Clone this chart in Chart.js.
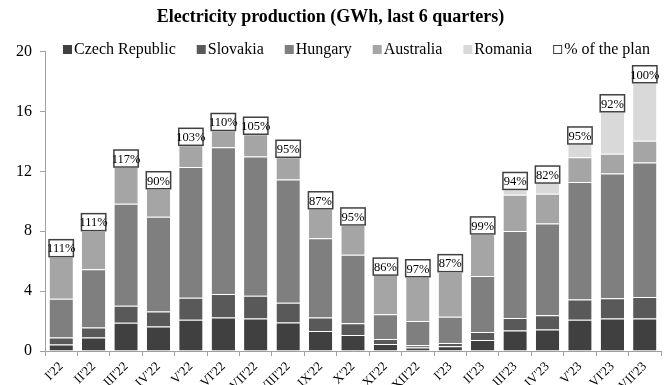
<!DOCTYPE html>
<html>
<head>
<meta charset="utf-8">
<script src="https://cdn.jsdelivr.net/npm/chart.js@4.4.1/dist/chart.umd.min.js"></script>
<style>
  body { margin: 0; background: #fff; }
  #wrap { width: 664px; height: 385px; }
</style>
</head>
<body>
<div id="wrap"><canvas id="prodChart" width="664" height="385"></canvas></div>
<script>
// ---- data (GWh per month) ----
const months = ["I'22", "II'22", "III'22", "IV'22", "V'22", "VI'22", "VII'22", "VIII'22", "IX'22", "X'22",
  "XI'22", "XII'22", "I'23", "II'23", "III'23", "IV'23", "V'23", "VI'23", "VII'23"];

const czech     = [0.43, 0.90, 1.88, 1.63, 2.08, 2.24, 2.17, 1.90, 1.34, 1.07, 0.47, 0.23, 0.31, 0.74, 1.37, 1.43, 2.08, 2.17, 2.17];
const slovakia  = [0.47, 0.67, 1.14, 1.01, 1.47, 1.56, 1.52, 1.32, 0.90, 0.79, 0.33, 0.15, 0.23, 0.53, 0.84, 0.96, 1.36, 1.36, 1.43];
const hungary   = [2.59, 3.89, 6.81, 6.32, 8.74, 9.81, 9.31, 8.24, 5.29, 4.57, 1.66, 1.63, 1.74, 3.74, 5.81, 6.12, 7.85, 8.33, 9.00];
const australia = [2.81, 2.58, 2.46, 1.88, 1.45, 1.12, 1.48, 1.48, 1.97, 1.99, 2.61, 2.95, 3.02, 2.81, 2.42, 1.99, 1.65, 1.32, 1.45];
const romania   = [null, null, null, null, null, null, null, null, null, null, null, null, null, null, 0.35, 0.72, 0.89, 2.80, 3.87];
const planPct   = [111, 111, 117, 90, 103, 110, 105, 95, 87, 95, 86, 97, 87, 99, 94, 82, 95, 92, 100];

const seriesNames  = ['Czech Republic', 'Slovakia', 'Hungary', 'Australia', 'Romania'];
const seriesColors = ['#404040', '#595959', '#7f7f7f', '#a5a5a5', '#d9d9d9'];
const seriesData   = [czech, slovakia, hungary, australia, romania];

const FONT = "'Liberation Serif', 'Times New Roman', serif";

// legend drawn by hand so it can sit on the same row as the "20" tick
const legendPlugin = {
  id: 'rowLegend',
  afterDraw(chart) {
    const ctx = chart.ctx;
    const y = 49;
    let x = 63;
    ctx.save();
    ctx.font = '16px ' + FONT;
    ctx.textBaseline = 'middle';
    ctx.textAlign = 'left';
    const items = seriesNames.map((n, i) => ({ name: n, color: seriesColors[i] }));
    items.push({ name: '% of the plan', color: null });
    items.forEach(it => {
      if (it.color) {
        ctx.fillStyle = it.color;
        ctx.fillRect(x, y - 4, 9, 9);
      } else {
        ctx.fillStyle = '#fff';
        ctx.fillRect(x + 0.5, y - 3.5, 8, 8);
        ctx.strokeStyle = '#404040';
        ctx.lineWidth = 1;
        ctx.strokeRect(x + 0.5, y - 3.5, 8, 8);
      }
      ctx.fillStyle = '#000';
      ctx.fillText(it.name, x + 11, y + 1);
      x += 11 + ctx.measureText(it.name).width + 21;
    });
    ctx.restore();
  }
};

// "% of the plan" boxes on top of every stack
const planPlugin = {
  id: 'planBoxes',
  afterDatasetsDraw(chart) {
    const ctx = chart.ctx;
    const yScale = chart.scales.y;
    const meta0 = chart.getDatasetMeta(0);
    ctx.save();
    ctx.font = '12.5px ' + FONT;
    ctx.textAlign = 'center';
    ctx.textBaseline = 'middle';
    planPct.forEach((p, i) => {
      let total = 0;
      seriesData.forEach(s => { total += s[i] || 0; });
      const top = yScale.getPixelForValue(total);
      const bar = meta0.data[i];
      const cx = bar.x;
      const w = bar.width + 1;
      const h = 17;
      ctx.fillStyle = '#fff';
      ctx.fillRect(cx - w / 2, top - h, w, h);
      ctx.strokeStyle = '#404040';
      ctx.lineWidth = 1.5;
      ctx.strokeRect(cx - w / 2, top - h, w, h);
      ctx.fillStyle = '#000';
      ctx.fillText(p + '%', cx, top - h / 2 + 1);
    });
    ctx.restore();
  }
};

new Chart(document.getElementById('prodChart'), {
  type: 'bar',
  data: {
    labels: months,
    datasets: seriesData.map((d, i) => ({
      label: seriesNames[i],
      data: d,
      backgroundColor: seriesColors[i],
      borderColor: 'rgba(255,255,255,0.35)',
      borderWidth: { top: 1, left: 0, right: 0, bottom: 0 },
      borderSkipped: false,
      barPercentage: 0.72,
      categoryPercentage: 1.0
    }))
  },
  options: {
    responsive: false,
    devicePixelRatio: 1,
    animation: false,
    layout: { padding: { left: 0, right: 3, top: 0, bottom: 0 } },
    plugins: {
      legend: { display: false },
      tooltip: { enabled: false },
      title: {
        display: true,
        text: 'Electricity production (GWh, last 6 quarters)',
        color: '#000',
        font: { family: FONT, size: 18, weight: 'bold' },
        padding: { top: 7, bottom: 23 }
      }
    },
    scales: {
      x: {
        stacked: true,
        grid: { display: true, drawOnChartArea: false, tickLength: 5, color: '#a0a0a0', offset: true },
        border: { color: '#a0a0a0' },
        ticks: { color: '#000', font: { family: FONT, size: 13 }, minRotation: 45, maxRotation: 45, padding: 3, autoSkip: false },
        afterFit(scale) { scale.height = 34; }
      },
      y: {
        stacked: true,
        min: 0,
        max: 20,
        grid: { display: true, drawOnChartArea: false, tickLength: 5, color: '#a0a0a0' },
        border: { color: '#a0a0a0' },
        ticks: { stepSize: 4, color: '#000', font: { family: FONT, size: 16 }, padding: 8 },
        afterFit(scale) { scale.width = 45; }
      }
    }
  },
  plugins: [legendPlugin, planPlugin]
});
</script>
</body>
</html>
